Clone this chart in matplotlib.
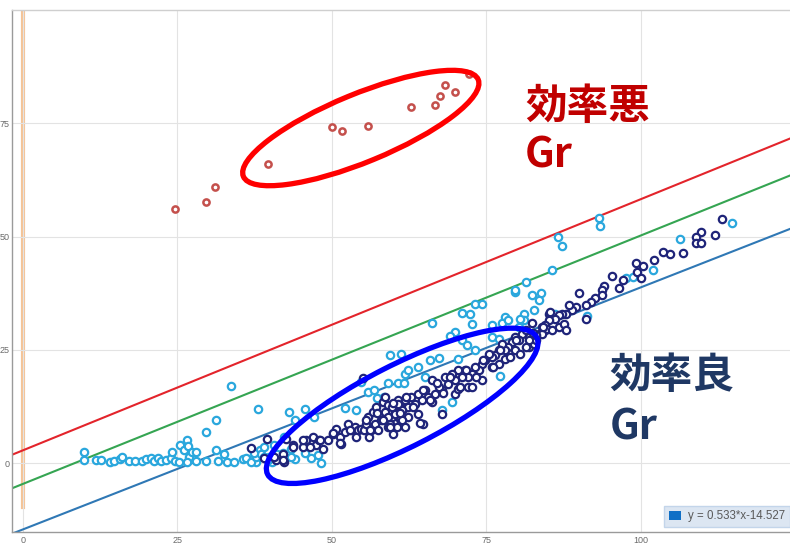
import matplotlib
matplotlib.use("Agg")
import numpy as np
import matplotlib.pyplot as plt
from matplotlib.patches import Ellipse, Patch
from matplotlib.transforms import ScaledTranslation

plt.rcParams['font.family'] = ['Liberation Sans', 'DejaVu Sans']

# ---------------- data ----------------
bad_x = [24.6, 29.6, 31.1, 39.7, 50.0, 51.6, 55.9, 62.8, 66.7, 67.5, 68.4, 70.0, 72.3]
bad_y = [56.0, 57.7, 60.8, 66.0, 74.1, 73.3, 74.4, 78.6, 78.9, 80.9, 83.4, 81.9, 85.7]

light_pts = [
    (9.9, 2.5), (9.9, 0.7), (11.9, 0.7), (12.6, 0.7), (14.1, 0.3), (14.8, 0.5), (15.7, 1.0),
    (16.0, 1.5), (17.1, 0.5), (18.2, 0.5), (19.2, 0.5), (20.0, 1.0), (20.7, 1.3), (21.2, 0.5),
    (21.8, 1.3), (22.3, 0.5), (23.1, 0.7), (23.9, 1.3), (24.2, 2.5), (24.6, 0.5), (25.3, 0.3),
    (25.4, 4.0), (26.1, 2.9), (26.5, 5.2), (26.7, 3.75), (26.9, 1.5), (27.4, 2.5), (28.0, 2.5),
    (26.5, 0.3), (28.0, 0.5), (29.6, 6.9), (31.2, 9.6), (33.7, 17.0), (29.6, 0.5), (31.2, 2.9),
    (31.5, 0.5), (32.6, 2.1), (33.1, 0.3), (34.2, 0.3), (35.6, 1.0), (36.1, 1.3), (37.2, 1.0),
    (37.7, 0.3), (38.3, 2.9), (38.1, 12.1),
    (59.4, 23.8), (61.2, 24.1), (61.8, 19.8), (59.1, 17.7), (60.7, 17.7), (61.7, 17.7), (54.8, 17.9),
    (43.1, 11.3), (45.6, 11.9), (44.0, 9.5), (47.2, 10.2), (36.9, 0.3), (37.7, 1.4), (38.5, 2.1),
    (39.1, 3.6), (40.7, 4.0), (42.3, 5.8), (44.0, 1.0), (43.4, 3.2), (40.4, 0.3), (39.9, 1.4),
    (41.2, 2.1), (52.1, 12.2), (54.0, 11.8), (55.9, 15.8), (56.9, 16.2), (57.4, 14.4), (58.5, 14.7),
    (37.4, 2.2), (39.1, 1.5), (39.6, 0.8), (42.1, 2.2), (43.4, 1.5), (45.6, 2.2), (46.7, 1.1),
    (47.8, 1.9), (48.3, 0.0),
    (66.2, 31.0), (71.1, 33.2), (72.4, 33.0), (73.2, 35.2), (74.3, 35.1), (72.7, 30.8), (70.0, 29.0),
    (69.2, 28.0), (71.1, 27.2), (71.9, 26.0), (75.9, 30.5), (78.1, 32.3), (77.6, 31.0), (79.7, 37.8),
    (81.4, 40.0), (82.4, 37.1), (83.8, 37.6), (83.5, 36.0), (82.7, 33.8), (81.1, 33.0), (80.3, 30.1),
    (64.0, 21.3), (65.9, 22.7), (67.3, 23.3), (70.5, 23.1), (73.2, 24.9), (75.9, 27.9), (77.0, 27.5),
    (62.4, 20.5), (65.1, 19.1), (69.4, 13.5), (67.8, 11.7), (77.3, 19.2),
    (93.3, 54.0), (93.4, 52.3), (86.7, 49.8), (87.2, 47.9), (85.6, 42.6), (81.1, 31.6), (86.2, 33.0),
    (91.4, 32.5), (97.6, 40.8), (98.7, 41.0), (102.0, 42.6), (106.4, 49.4), (114.8, 52.9),
    (79.7, 38.2), (78.6, 31.6), (80.4, 31.9),
]

navy_pts = [
    (36.9, 3.4), (39.5, 5.3), (41.0, 0.8),
    (55.1, 18.8), (39.1, 1.2), (40.7, 1.4), (42.1, 2.1), (42.3, 0.3), (42.6, 5.4), (43.7, 4.0),
    (45.3, 3.6), (45.9, 5.1), (46.9, 5.8), (47.5, 4.0), (48.0, 5.1), (48.6, 3.2), (49.4, 5.1),
    (50.2, 6.6), (50.7, 7.7), (51.3, 5.8), (51.5, 4.3), (52.1, 6.9), (52.6, 8.8), (53.2, 7.3),
    (53.7, 8.0), (54.3, 7.3), (54.8, 7.7), (55.3, 7.3), (55.6, 8.8), (55.9, 10.2), (56.1, 5.8),
    (56.4, 7.3), (56.7, 11.3), (57.0, 8.8), (57.2, 12.4), (57.5, 7.3), (58.0, 9.5), (58.6, 11.3),
    (58.3, 13.5), (59.1, 12.8), (59.4, 8.8), (59.7, 10.2), (59.9, 6.6), (60.2, 11.3), (60.5, 8.0),
    (60.8, 13.9), (61.0, 9.9), (61.3, 11.7), (61.8, 8.0), (62.1, 14.3), (62.4, 10.2), (62.1, 12.4),
    (85.2, 33.0), (84.6, 29.4), (83.5, 28.6), (82.4, 31.0), (81.9, 27.9), (80.8, 28.6), (79.7, 27.9),
    (79.2, 26.8), (78.6, 25.7), (78.1, 24.9), (77.6, 26.4), (77.0, 24.9), (76.5, 23.8), (75.9, 23.5),
    (75.4, 24.2), (74.8, 22.7), (74.3, 22.0), (73.8, 20.5), (73.2, 21.3), (72.7, 19.8), (72.1, 19.1),
    (71.6, 20.5), (71.1, 19.1), (70.5, 20.5), (70.0, 18.3), (69.4, 19.8), (68.9, 17.6), (68.3, 19.1),
    (67.8, 16.1), (67.3, 16.8), (66.7, 15.4), (66.2, 18.3), (65.6, 14.6), (65.1, 16.1), (64.6, 13.9),
    (64.0, 15.4), (63.5, 13.2), (62.9, 14.6), (62.4, 12.4), (61.8, 13.9), (61.3, 11.7), (60.8, 13.2),
    (60.2, 11.0), (59.7, 12.4), (59.1, 10.2), (58.6, 14.6), (64.8, 8.8), (67.8, 11.0), (70.0, 15.4),
    (72.1, 16.8), (74.3, 18.3), (77.0, 22.0), (79.7, 24.9), (81.9, 25.7), (82.7, 26.4), (80.5, 24.2),
    (78.1, 23.1), (75.9, 21.3), (72.7, 16.8), (70.5, 16.5), (66.2, 13.5), (64.0, 11.0), (61.3, 9.5),
    (59.1, 8.0), (80.3, 27.2), (81.4, 29.4), (83.0, 27.2),
    (113.2, 53.8), (112.0, 50.4), (109.8, 51.0), (108.9, 49.8), (109.0, 48.5), (109.8, 48.5),
    (106.8, 46.4), (104.7, 46.1), (103.6, 46.6), (102.2, 44.8), (100.4, 43.5), (99.2, 44.1),
    (99.5, 42.2), (100.1, 40.8), (97.1, 40.4), (96.5, 38.6), (95.3, 41.3), (94.1, 39.1), (93.7, 38.2),
    (93.7, 37.1), (92.6, 36.4), (91.9, 35.6), (91.1, 34.9), (90.1, 37.5), (89.5, 34.5), (88.9, 33.8),
    (88.4, 34.9), (87.9, 33.0), (87.3, 33.0), (86.8, 32.7), (86.2, 31.9), (85.4, 33.4), (85.2, 31.6),
    (84.6, 30.5), (84.1, 30.1), (84.9, 29.7), (85.7, 29.4), (86.8, 30.1), (87.6, 30.8), (87.9, 29.4),
    (91.1, 31.9), (84.1, 28.6), (83.0, 28.3), (81.9, 27.2),
    (42.1, 0.8), (43.8, 3.7), (45.4, 5.2), (46.5, 3.7), (48.1, 5.2), (50.2, 6.7), (51.3, 4.4),
    (52.9, 7.4), (54.0, 5.9), (55.6, 9.6), (56.2, 7.4), (57.3, 11.1), (58.3, 9.6), (59.4, 8.1),
    (59.9, 13.3), (61.0, 11.1), (62.1, 14.7), (63.2, 12.5), (64.3, 8.9), (64.8, 16.2), (65.9, 14.0),
    (67.0, 17.7), (68.0, 15.5), (69.1, 19.1), (70.7, 16.9), (71.8, 20.6), (73.4, 19.1), (74.5, 22.8),
    (76.1, 21.3), (77.2, 25.0), (78.8, 23.5), (79.9, 27.2), (81.5, 25.7), (82.6, 28.7), (84.2, 30.1),
]
light_x = [p[0] for p in light_pts]
light_y = [p[1] for p in light_pts]
navy_x = [p[0] for p in navy_pts]
navy_y = [p[1] for p in navy_pts]

fit_slope, fit_icpt = 0.533, -14.527      # blue regression line
upper_slope, upper_icpt = 0.553, 2.9      # red line
mid_slope, mid_icpt = 0.547, -4.5         # green line

x_ticks = [0, 25, 50, 75, 100]
y_ticks = [0, 25, 50, 75]
legend_label = "y = 0.533*x-14.527"

# ---------------- figure ----------------
W, H = 790, 548
fig = plt.figure(figsize=(W / 100, H / 100), dpi=100)
ax = fig.add_axes([11.5 / W, 1 - 532 / H, 1 - 11.5 / W, (532 - 10) / H])
ax.set_xlim(-1.86, 124.2)
ax.set_ylim(-15.1, 99.9)

ax.set_xticks(x_ticks)
ax.set_yticks(y_ticks)
ax.grid(True, color='#e3e3e3', lw=0.8, zorder=0)
ax.tick_params(length=0, labelsize=6.5, labelcolor='#6a6a6a', pad=3)
ax.tick_params(axis='y', pad=1.5)
ax.spines['right'].set_visible(False)
ax.spines['top'].set_color('#cfcfcf')
ax.spines['left'].set_color('#9a9a9a')
ax.spines['bottom'].set_color('#9a9a9a')
for s in ['top', 'left', 'bottom']:
    ax.spines[s].set_linewidth(1.0)

# vertical reference line at x = 0
ax.axvline(0, ymin=(-9.5 + 15.1) / 115.0, ymax=1.0, color='#f3be8c', lw=3, alpha=0.9, zorder=1)

xs = np.array(ax.get_xlim())
ax.plot(xs, upper_slope * xs + upper_icpt, color='#e3242b', lw=1.5, zorder=2)
ax.plot(xs, mid_slope * xs + mid_icpt, color='#35a552', lw=1.5, zorder=2)
ax.plot(xs, fit_slope * xs + fit_icpt, color='#2f78b5', lw=1.5, zorder=2)

ax.scatter(light_x, light_y, s=28, facecolor='white', edgecolor='#2aa7dd', linewidth=1.6, zorder=3)
ax.scatter(navy_x, navy_y, s=28, facecolor='white', edgecolor='#1f2479', linewidth=1.6, zorder=4)
ax.scatter(bad_x, bad_y, s=20, facecolor='white', edgecolor='#c4504c', linewidth=1.8, zorder=4)

# highlight ellipses (size in pixels, centre in data coords)
def ring(cx, cy, w_px, h_px, ang, color):
    tr = fig.dpi_scale_trans + ScaledTranslation(cx, cy, ax.transData)
    e = Ellipse((0, 0), w_px / 100, h_px / 100, angle=ang, fill=False,
                edgecolor=color, lw=3.8, transform=tr, zorder=10, clip_on=False)
    ax.add_patch(e)

ring(54.7, 73.9, 254, 68, 22.4, '#ff0000')
ring(61.4, 12.7, 302, 82, 27.0, '#0000ff')

jp = ['Noto Sans CJK JP', 'DejaVu Sans']
ax.text(81.3, 78.5, "効率悪", family=jp, weight='bold', fontsize=30, color='#c00000',
        ha='left', va='center', zorder=11)
ax.text(81.3, 67.8, "Gr", family=jp, weight='bold', fontsize=30, color='#c00000',
        ha='left', va='center', zorder=11)
ax.text(95.0, 19.3, "効率良", family=jp, weight='bold', fontsize=30, color='#1f3864',
        ha='left', va='center', zorder=11)
ax.text(95.0, 8.0, "Gr", family=jp, weight='bold', fontsize=30, color='#1f3864',
        ha='left', va='center', zorder=11)

leg = ax.legend(handles=[Patch(facecolor='#0f6fc6', edgecolor='none')], labels=[legend_label],
                loc='lower right', bbox_to_anchor=(1.0, 5 / 522), fontsize=8.3,
                frameon=True, fancybox=False, borderpad=0.4, borderaxespad=0.0,
                handlelength=1.1, handleheight=0.9, handletextpad=0.6)
leg.get_frame().set_facecolor('#dce6f2')
leg.get_frame().set_edgecolor('#c3d5ea')
leg.get_frame().set_alpha(1)
for t in leg.get_texts():
    t.set_color('#595959')

fig.savefig('out.png', dpi=100)
